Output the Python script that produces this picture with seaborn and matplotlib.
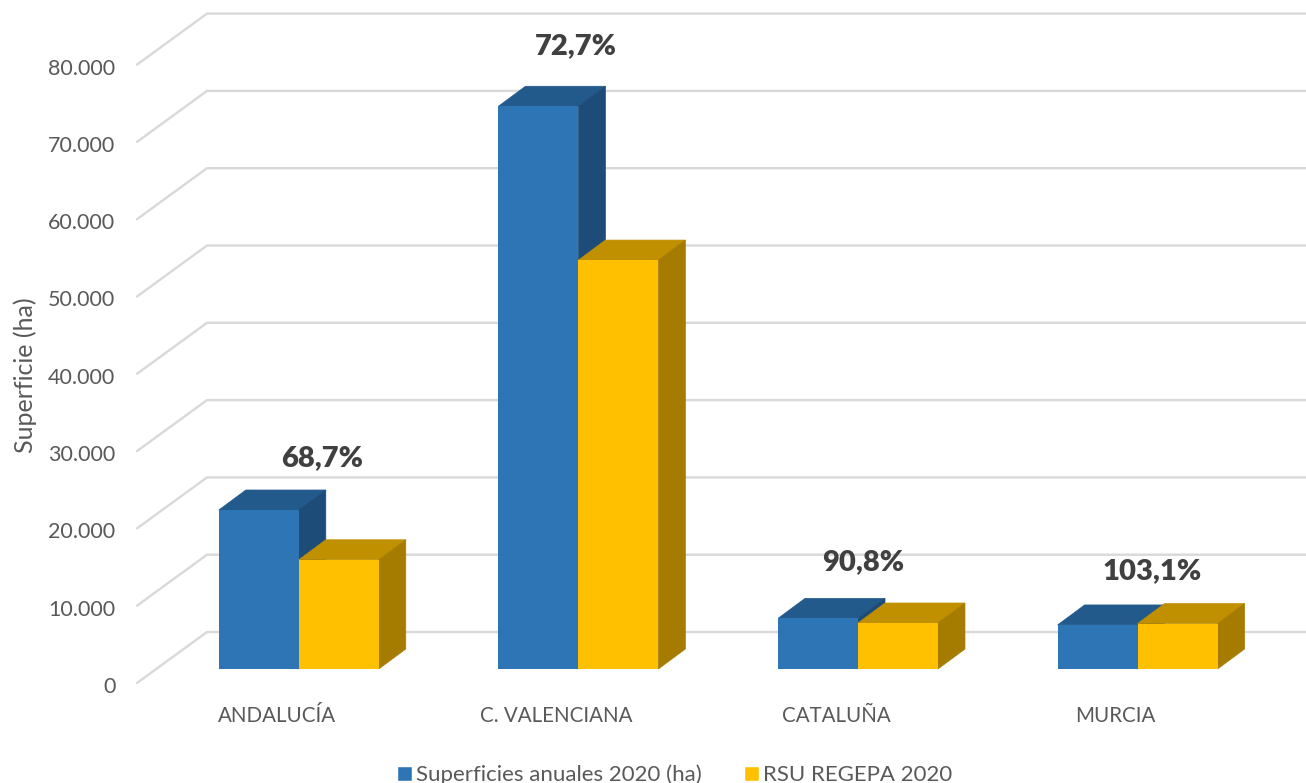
import matplotlib
matplotlib.use('Agg')
import matplotlib.pyplot as plt
import matplotlib.transforms as mtrans
from matplotlib.patches import Polygon, Patch
import pandas as pd
import seaborn as sns

# Data
regions = ['ANDALUCÍA', 'C. VALENCIANA', 'CATALUÑA', 'MURCIA']
superficies = [20570, 72800, 6550, 5700]
rsu_regepa = [14130, 52900, 5950, 5880]
pct_labels = ['68,7%', '72,7%', '90,8%', '103,1%']
y_ticks = [0, 10000, 20000, 30000, 40000, 50000, 60000, 70000, 80000]
y_tick_labels = ['0', '10.000', '20.000', '30.000', '40.000', '50.000', '60.000', '70.000', '80.000']
series_names = ['Superficies anuales 2020 (ha)', 'RSU REGEPA 2020']

# Colours: front, top, side
blue = ('#2E75B6', '#235A8C', '#1E4C78')
gold = ('#FFC000', '#C09000', '#A67C00')
grid_color = '#D9D9D9'
text_color = '#595959'

W, H = 1306, 783
sns.set_theme(style='white')
plt.rcParams['font.family'] = ['Lato', 'DejaVu Sans']

fig = plt.figure(figsize=(W / 100, H / 100), dpi=100)
# axes box in pixels: value 0 at y=669, 80.000 at y=50.6
left, right, top, bottom = 159.0, 1277.4, 50.6, 669
ax = fig.add_axes([left / W, 1 - bottom / H, (right - left) / W, (bottom - top) / H])

df = pd.DataFrame({
    'region': regions * 2,
    'value': superficies + rsu_regepa,
    'series': [series_names[0]] * 4 + [series_names[1]] * 4,
})
sns.barplot(data=df, x='region', y='value', hue='series', palette=[blue[0], gold[0]],
            width=0.572, gap=0, dodge=True, saturation=1, legend=False, ax=ax, zorder=3,
            edgecolor='none', linewidth=0)
ax.set_xlim(-0.5, 3.5)
ax.set_ylim(0, 80000)

# pixel -> data size helpers
px_x = 4 / (right - left)
px_y = 80000 / (bottom - top)
depth_x, depth_y = 27 * px_x, 20 * px_y

# Grid: diagonal on the side wall, then flat along the back wall
for v in y_ticks:
    y_back = v + 37 * px_y
    y_front = v - 14 * px_y
    ax.plot([(137 - left) * px_x - 0.5, (207 - left) * px_x - 0.5, (1306 - left) * px_x - 0.5],
            [y_front, y_back, y_back], color=grid_color, lw=1.7, clip_on=False, zorder=1,
            solid_joinstyle='miter')

# Top and side faces of each bar from the patches seaborn drew
for container, cols, z in zip(ax.containers, (blue, gold), (3, 4)):
    for bar in container:
        x0, w, h = bar.get_x(), bar.get_width(), bar.get_height()
        x1 = x0 + w
        bar.set_zorder(z + 0.5)
        ax.add_patch(Polygon([(x0, h), (x1, h), (x1 + depth_x, h + depth_y), (x0 + depth_x, h + depth_y)],
                             closed=True, fc=cols[1], ec=cols[1], lw=0.5, clip_on=False, zorder=z))
        ax.add_patch(Polygon([(x1, 0), (x1 + depth_x, depth_y), (x1 + depth_x, h + depth_y), (x1, h)],
                             closed=True, fc=cols[2], ec=cols[2], lw=0.5, clip_on=False, zorder=z))

# Percent labels over each group
label_dx = [23.5, -2.5, 5.5, 14.5]
label_dy = [52, 60, 56, 52]
for i, txt in enumerate(pct_labels):
    ax.annotate(txt, (i, max(superficies[i], rsu_regepa[i])), xytext=(label_dx[i] * 0.72, label_dy[i] * 0.72),
                textcoords='offset points', ha='center', va='center', fontsize=21,
                fontweight='heavy', color='#404040', zorder=6, annotation_clip=False)

# Axis text
ax.set_yticks(y_ticks)
ax.set_yticklabels(y_tick_labels)
ax.set_xlabel('')
ax.set_ylabel('')
ax.tick_params(axis='y', length=0, pad=31.5, labelsize=15.5, labelcolor=text_color)
ax.tick_params(axis='x', length=0, pad=38.5, labelsize=14.8, labelcolor=text_color)
y_shift = mtrans.ScaledTranslation(0, -16 / 100, fig.dpi_scale_trans)
for lab in ax.get_yticklabels():
    lab.set_transform(lab.get_transform() + y_shift)
x_shift = mtrans.ScaledTranslation(-22 / 100, 0, fig.dpi_scale_trans)
for lab in ax.get_xticklabels():
    lab.set_transform(lab.get_transform() + x_shift)
    lab.set_verticalalignment('baseline')
sns.despine(ax=ax, left=True, bottom=True)
ax.patch.set_alpha(0)

fig.text(25 / W, 1 - 375 / H, 'Superficie (ha)', rotation=90, ha='center', va='center',
         fontsize=18, color=text_color)

handles = [Patch(fc=blue[0], label=series_names[0]), Patch(fc=gold[0], label=series_names[1])]
fig.legend(handles=handles, loc='center', bbox_to_anchor=(675 / W, 1 - 775 / H), ncol=2, frameon=False,
           fontsize=16, labelcolor=text_color, handlelength=0.65, handleheight=0.65,
           handletextpad=0.2, columnspacing=1.9, borderpad=0, borderaxespad=0)

fig.savefig('out.png', dpi=100)
